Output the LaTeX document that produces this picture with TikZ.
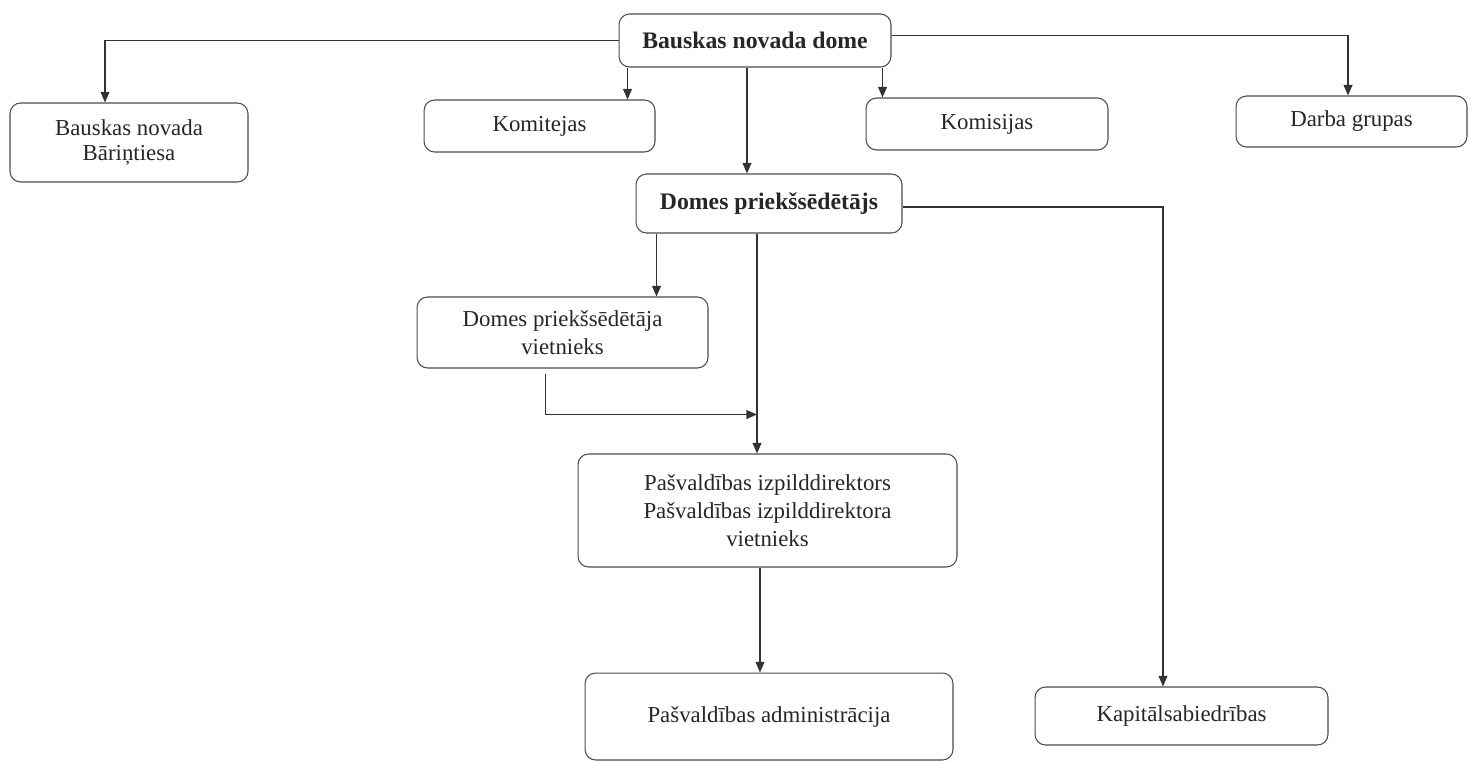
\documentclass[tikz,border=0pt]{standalone}
\usepackage{fontspec}
\setmainfont{Liberation Serif}
\usetikzlibrary{arrows.meta, calc, positioning}

\begin{document}
\begin{tikzpicture}[x=0.02cm, y=-0.02cm,
	box/.style={draw=black!70, line width=0.6pt, rounded corners=6pt, align=center,
		inner sep=0pt, text=black!85, font=\fontsize{13}{16}\selectfont},
	head/.style={box, font=\fontsize{13.5}{16}\selectfont\bfseries},
	link/.style={draw=black!80, line width=0.8pt, -{Triangle[length=6pt,width=5pt]}}]
	\useasboundingbox (0,0) rectangle (1469,762);
	% boxes
	\node[head, minimum width=5.44cm, minimum height=1.06cm] (dome) at (755,40.5) {Bauskas novada dome};
	\node[box, minimum width=4.76cm, minimum height=1.58cm] (tiesa) at (129,142.5) {Bauskas novada\\[-2pt]Bāriņtiesa};
	\node[box, minimum width=4.62cm, minimum height=1.04cm] (komitejas) at (539.5,126) {Komitejas};
	\node[box, minimum width=4.84cm, minimum height=1.04cm] (komisijas) at (987,124) {Komisijas};
	\node[box, minimum width=4.62cm, minimum height=1.02cm] (grupas) at (1351.5,121.5) {Darba grupas};
	\node[head, minimum width=5.32cm, minimum height=1.18cm] (pried) at (769,203.5) {Domes priekšsēdētājs};
	\node[box, minimum width=5.82cm, minimum height=1.42cm] (vietn) at (562.5,332.5) {Domes priekšsēdētāja\\vietnieks};
	\node[box, minimum width=7.58cm, minimum height=2.26cm] (izpild) at (767.5,510.5) {Pašvaldības izpilddirektors\\Pašvaldības izpilddirektora\\vietnieks};
	\node[box, minimum width=7.36cm, minimum height=1.74cm] (admin) at (769,716.5) {Pašvaldības administrācija};
	\node[box, minimum width=5.86cm, minimum height=1.16cm] (kapital) at (1181.5,716) {Kapitālsabiedrības};
	% links
	\draw[link] (dome.west) -| ($(tiesa.north)+(-24,0)$);
	\draw[link] ($(dome.south west)+(9,0)$) coordinate (c1) -- (c1 |- komitejas.north);
	\draw[link] ($(dome.south east)+(-9,0)$) coordinate (c2) -- (c2 |- komisijas.north);
	\draw[link] ($(dome.east)+(0,-5)$) -| ($(grupas.north)+(-3.5,0)$);
	\draw[link] ($(dome.south)+(-8,0)$) coordinate (c3) -- (c3 |- pried.north);
	\draw[link] ($(pried.south west)+(21,0)$) coordinate (c4) -- (c4 |- vietn.north);
	\draw[link] ($(pried.south)+(-12,0)$) coordinate (c5) -- (c5 |- izpild.north);
	\coordinate (merge) at ($(c5)+(0,181)$);
	\draw[link] ($(vietn.south)+(-17,5)$) |- (merge);
	\draw[link] ($(izpild.south)+(-7.5,0)$) coordinate (c6) -- (c6 |- admin.north);
	\draw[link] ($(pried.east)+(0,3.5)$) -| ($(kapital.north)+(-18.5,0)$);
\end{tikzpicture}
\end{document}
